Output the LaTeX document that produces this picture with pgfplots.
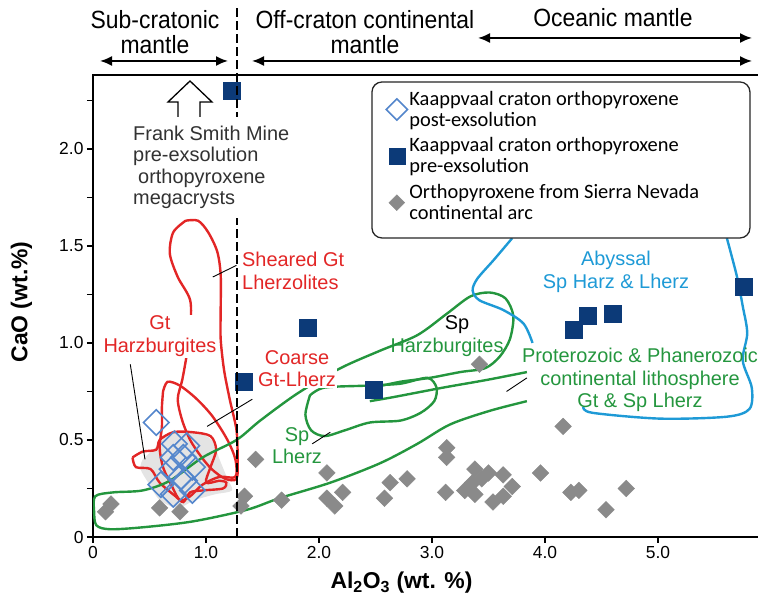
\documentclass[border=0pt]{standalone}
\usepackage{fontspec}
\setmainfont{Liberation Sans}
\newfontfamily\narrowfont{Liberation Sans}[FakeStretch=0.92]
\newfontfamily\legfont{Carlito}
\usepackage{pgfplots}
\pgfplotsset{compat=1.18}
\usetikzlibrary{arrows.meta}

\definecolor{navy}{RGB}{12,58,120}
\definecolor{opencol}{RGB}{84,134,204}
\definecolor{graydot}{RGB}{138,138,138}
\definecolor{grayfill}{RGB}{228,228,228}
\definecolor{redc}{RGB}{226,38,38}
\definecolor{greenc}{RGB}{36,150,62}
\definecolor{bluec}{RGB}{30,154,214}
\definecolor{txtgray}{RGB}{50,50,50}

\begin{document}
\begin{tikzpicture}[x=1bp,y=1bp]
\begin{axis}[
  at={(0,0)}, anchor=south west, scale only axis,
  width=668bp, height=462bp,
  xmin=0, xmax=5.912, ymin=0, ymax=2.381,
  axis line style={line width=2.6bp},
  xtick={0,1,2,3,4,5}, xticklabels={0,1.0,2.0,3.0,4.0,5.0},
  ytick={0,0.5,1,1.5,2}, yticklabels={0,0.5,1.0,1.5,2.0},
  minor ytick={0.25,0.75,1.25,1.75,2.25},
  xtick pos=bottom, ytick pos=left,
  tick align=outside,
  major tick length=6bp, minor tick length=6bp,
  tick style={black, line width=1.6bp},
  tick label style={font=\fontsize{17.5}{20}\selectfont},
  legend style={at={(0.4177,0.9848)}, anchor=north west, draw=none, fill=none,
    inner xsep=14bp, inner ysep=7bp,
    font=\legfont\fontsize{20.5}{21}\selectfont,
    cells={anchor=west, align=left}, nodes={inner ysep=2bp}, row sep=6bp},
]
% legend entries
\addlegendimage{only marks, mark=square, mark size=7.5bp, mark options={rotate=45, draw=opencol, line width=1.6bp}}
\addlegendentry{Kaappvaal craton orthopyroxene\\post-exsolution}
\addlegendimage{only marks, mark=square*, mark size=8bp, mark options={fill=navy, draw=navy}}
\addlegendentry{Kaappvaal craton orthopyroxene\\pre-exsolution}
\addlegendimage{only marks, mark=square*, mark size=5.6bp, mark options={rotate=45, fill=graydot, draw=graydot}}
\addlegendentry{Orthopyroxene from Sierra Nevada\\continental arc}

% gray field
\addplot[fill=grayfill, draw=none, smooth, forget plot] coordinates {
(0.44,0.40) (0.55,0.46) (0.68,0.53) (0.90,0.54) (1.05,0.50) (1.12,0.40) (1.19,0.30)
(1.23,0.24) (1.08,0.22) (0.90,0.19) (0.75,0.15) (0.59,0.19) (0.50,0.27) (0.42,0.35) (0.44,0.40)} -- cycle;

% red fields
\addplot[redc, line width=2.4bp, smooth, forget plot] coordinates {
(0.82,1.63) (0.93,1.63) (1.02,1.57) (1.10,1.47) (1.13,1.35) (1.13,1.17) (1.13,1.02)
(1.16,0.86) (1.21,0.71) (1.27,0.55) (1.28,0.40) (1.27,0.30) (1.17,0.30) (1.05,0.35)
(0.95,0.42) (0.86,0.50) (0.79,0.60) (0.75,0.71) (0.79,0.81) (0.83,0.94) (0.86,1.07)
(0.86,1.22) (0.75,1.34) (0.68,1.46) (0.71,1.57) (0.82,1.63)};
\addplot[redc, line width=2.4bp, smooth, forget plot] coordinates {
(0.62,0.75) (0.66,0.80) (0.77,0.78) (0.92,0.71) (1.06,0.62) (1.19,0.50) (1.26,0.40)
(1.26,0.31) (1.12,0.31) (0.97,0.27) (0.86,0.21) (0.77,0.19) (0.70,0.26) (0.62,0.36)
(0.59,0.46) (0.61,0.57) (0.61,0.67) (0.62,0.75)};
\addplot[redc, line width=2.4bp, smooth, forget plot] coordinates {
(0.35,0.41) (0.44,0.44) (0.56,0.45) (0.59,0.50) (0.71,0.54) (0.88,0.54) (1.04,0.52)
(1.09,0.45) (1.04,0.36) (1.00,0.28) (1.12,0.29) (1.18,0.28) (1.15,0.25) (0.97,0.24)
(0.86,0.23) (0.80,0.18) (0.73,0.21) (0.59,0.28) (0.51,0.35) (0.38,0.36) (0.35,0.41)};

% green fields
\addplot[greenc, line width=2.4bp, smooth, forget plot] coordinates {
(3.84,0.70) (3.51,0.65) (3.16,0.58) (2.87,0.48) (2.54,0.38) (2.10,0.28) (1.65,0.20)
(1.36,0.14) (0.88,0.08) (0.44,0.05) (0.15,0.04) (0.03,0.06) (0.01,0.13) (0.02,0.21)
(0.18,0.23) (0.44,0.24) (0.68,0.29) (0.97,0.41) (1.27,0.50) (1.48,0.60) (1.81,0.74)
(2.19,0.87) (2.54,0.96) (2.87,1.04) (3.13,1.15) (3.34,1.24) (3.51,1.26) (3.65,1.23)
(3.72,1.14) (3.69,1.02) (3.60,0.93) (3.47,0.87) (3.25,0.85) (2.98,0.82) (2.72,0.80) (2.48,0.77)};
\addplot[greenc, line width=2.4bp, smooth, forget plot] coordinates {
(1.92,0.73) (2.05,0.77) (2.42,0.78) (2.72,0.79) (2.96,0.82) (3.04,0.77) (3.02,0.70)
(2.90,0.64) (2.72,0.60) (2.45,0.59) (2.23,0.55) (2.05,0.52) (1.93,0.55) (1.88,0.63) (1.92,0.73)};
\addplot[greenc, line width=2.4bp, smooth, forget plot] coordinates {
(2.45,0.70) (2.65,0.72) (3.10,0.77) (3.49,0.81) (3.84,0.85)};

% blue field
\addplot[bluec, line width=2.4bp, smooth, forget plot] coordinates {
(3.71,1.54) (3.55,1.43) (3.40,1.33) (3.36,1.27) (3.42,1.22) (3.63,1.17) (3.81,1.10) (3.89,1.00)};
\addplot[bluec, line width=2.4bp, smooth, forget plot] coordinates {
(5.61,1.54) (5.70,1.34) (5.75,1.19) (5.79,1.05) (5.75,0.91) (5.83,0.77) (5.81,0.66)
(5.61,0.62) (5.02,0.61) (4.42,0.64) (4.34,0.67)};

% Sierra Nevada orthopyroxene
\addplot[only marks, mark=square*, mark size=5.9bp, mark options={rotate=45, fill=graydot, draw=graydot}, forget plot] coordinates {
(0.11,0.13) (0.16,0.17) (0.59,0.15) (0.77,0.13) (1.31,0.16) (1.34,0.21) (1.44,0.40)
(1.67,0.19) (2.07,0.33) (2.07,0.20) (2.14,0.16) (2.21,0.23) (2.58,0.20) (2.63,0.28)
(2.78,0.30) (3.13,0.46) (3.13,0.41) (3.12,0.23) (3.29,0.24) (3.36,0.28) (3.38,0.35)
(3.38,0.22) (3.44,0.30) (3.50,0.33) (3.54,0.18) (3.63,0.32) (3.71,0.26) (3.63,0.21)
(3.42,0.89) (3.96,0.33) (4.16,0.57) (4.23,0.23) (4.30,0.24) (4.54,0.14) (4.72,0.25)};

% Kaapvaal post-exsolution
\addplot[only marks, mark=square, mark size=9bp, mark options={rotate=45, draw=opencol, line width=1.6bp}, forget plot] coordinates {
(0.56,0.59) (0.72,0.48) (0.83,0.47) (0.71,0.41) (0.80,0.41) (0.88,0.36) (0.70,0.35)
(0.78,0.31) (0.60,0.27) (0.71,0.22) (0.88,0.24) (0.81,0.29)};

% Kaapvaal pre-exsolution
\addplot[only marks, mark=square*, mark size=8.5bp, mark options={fill=navy, draw=navy}, forget plot] coordinates {
(1.23,2.30) (1.90,1.08) (1.33,0.80) (2.48,0.76) (4.25,1.07) (4.38,1.14) (4.60,1.15) (5.76,1.29)};

% legend frame
\draw[rounded corners=10bp, line width=1.3bp, draw=black!85, fill=white]
  (axis cs:2.469,1.541) rectangle (axis cs:5.814,2.345);

% leader lines
\draw[line width=0.9bp] (axis cs:1.06,1.34) -- (axis cs:1.27,1.40);
\draw[line width=0.9bp] (axis cs:0.33,0.89) -- (axis cs:0.46,0.40);
\draw[line width=0.9bp] (axis cs:1.01,0.57) -- (axis cs:1.41,0.71);
\draw[line width=0.9bp] (axis cs:1.94,0.48) -- (axis cs:2.10,0.54);
\draw[line width=0.9bp] (axis cs:3.66,0.75) -- (axis cs:3.84,0.82);
\end{axis}

% cratonic boundary
\draw[line width=2.4bp, dash pattern=on 9bp off 4bp] (144,0) -- (144,532);

% top labels and arrows
\node[font=\narrowfont\fontsize{25}{25}\selectfont, align=center] at (62,505) {Sub-cratonic\\mantle};
\node[font=\narrowfont\fontsize{25}{25}\selectfont, align=center] at (272,505) {Off-craton continental\\mantle};
\node[font=\narrowfont\fontsize{25}{25}\selectfont] at (520,519) {Oceanic mantle};
\draw[{Latex[length=12bp,width=10bp]}-{Latex[length=12bp,width=10bp]}, line width=1.8bp] (7,476) -- (135,476);
\draw[{Latex[length=12bp,width=10bp]}-{Latex[length=12bp,width=10bp]}, line width=1.8bp] (159,476) -- (659,476);
\draw[{Latex[length=12bp,width=10bp]}-{Latex[length=12bp,width=10bp]}, line width=1.8bp] (385,499) -- (659,499);

% Frank Smith annotation
\draw[line width=1.3bp, fill=white] (97,456) -- (119,435) -- (107,435) -- (107,415) -- (85,415) -- (85,435) -- (75,435) -- cycle;
\node[anchor=west, align=left, inner xsep=0pt, inner ysep=9bp, fill=white, text=txtgray, font=\fontsize{20}{21.5}\selectfont] at (40,369.5)
  {Frank Smith Mine\\pre-exsolution\\\hspace*{5bp}orthopyroxene\\megacrysts};

% field labels
\node[anchor=west, align=left, inner sep=0pt, text=redc, font=\fontsize{20}{23}\selectfont] at (149,266.5) {Sheared Gt\\Lherzolites};
\node[align=center, inner sep=1bp, fill=white, text=redc, font=\fontsize{20}{23}\selectfont] at (67,200.5) {Gt\\Harzburgites};
\node[align=center, inner sep=1bp, fill=white, text=redc, font=\fontsize{20}{22}\selectfont] at (204,168) {Coarse\\Gt-Lherz};
\node[align=center, inner sep=0pt, text=greenc, font=\fontsize{20}{22}\selectfont] at (204,91) {Sp\\Lherz};
\node[inner sep=0pt, font=\fontsize{20}{22}\selectfont] at (364,212) {Sp};
\node[inner sep=0pt, text=greenc, font=\fontsize{20}{22}\selectfont] at (354,190) {Harzburgites};
\node[align=center, inner sep=0pt, text=greenc, font=\fontsize{20}{22.5}\selectfont] at (547,157)
  {Proterozoic \& Phanerozoic\\continental lithosphere\\Gt \& Sp Lherz};
\node[align=center, inner sep=0pt, text=bluec, font=\fontsize{20}{23}\selectfont] at (523,265.5) {Abyssal\\Sp Harz \& Lherz};

% axis titles
\node[rotate=90, font=\bfseries\fontsize{23}{23}\selectfont] at (-71.5,235) {CaO (wt.\%)};
\node[font=\bfseries\fontsize{23}{23}\selectfont] at (308.5,-46) {Al\textsubscript{2}O\textsubscript{3} (wt. \%)};

\pgfresetboundingbox
\path[use as bounding box] (-93,-64) rectangle (665,537);
\end{tikzpicture}
\end{document}
